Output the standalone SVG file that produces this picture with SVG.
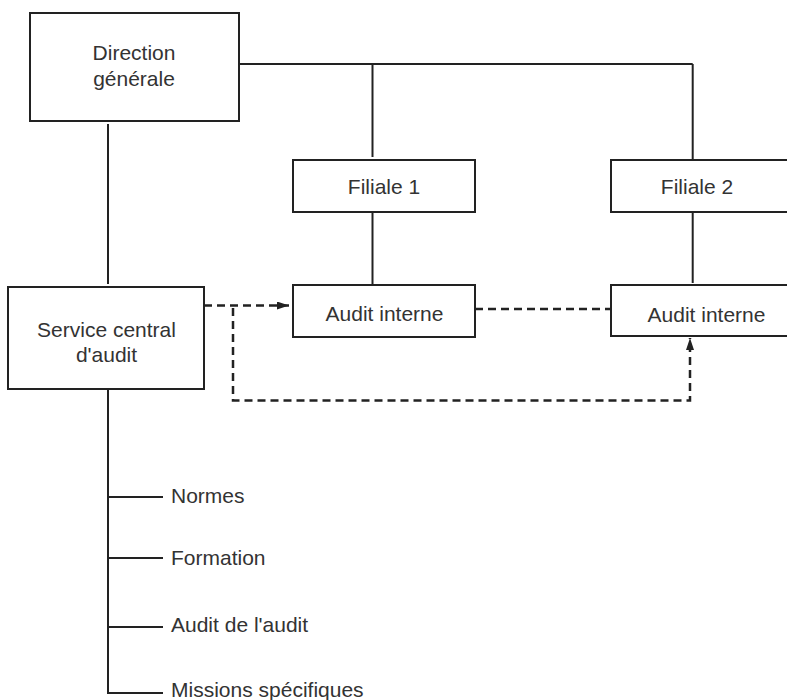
<svg xmlns="http://www.w3.org/2000/svg" width="787" height="700" viewBox="0 0 787 700">
<style>
.box{fill:#fff;stroke:#222;stroke-width:2}
.ln{fill:none;stroke:#222;stroke-width:2}
.dash{fill:none;stroke:#222;stroke-width:2.5;stroke-dasharray:8 5}
text{font-family:"Liberation Sans",Arial,sans-serif;font-size:21px;fill:#333}
.c{text-anchor:middle}
</style>
<defs>
<marker id="arr" markerWidth="12" markerHeight="8" refX="12" refY="4" orient="auto" markerUnits="userSpaceOnUse">
<path d="M0,0 L12,4 L0,8 Z" fill="#222"/>
</marker>
</defs>
<g id="connectors">
<path class="ln" d="M239,64 H692.7 M372.5,64 V157 M692.7,64 V159"/>
<path class="ln" d="M108,124 V284"/>
<path class="ln" d="M372.5,212 V284 M692.7,212 V283"/>
<path class="ln" d="M108,389 V693 H163 M108,497 H163 M108,558 H163 M108,627 H163"/>
<path class="dash" d="M204,305.5 H289" marker-end="url(#arr)"/>
<path class="dash" d="M233,308 V400.5 H690 V338" marker-end="url(#arr)"/>
<path class="dash" d="M475,309 H611"/>
</g>
<g id="direction">
<rect class="box" x="30" y="13" width="209" height="108"/>
<text class="c" x="134" y="60">Direction</text>
<text class="c" x="134" y="86">générale</text>
</g>
<g id="filiale1">
<rect class="box" x="293" y="160" width="182" height="52"/>
<text class="c" x="384" y="194">Filiale 1</text>
</g>
<g id="filiale2">
<rect class="box" x="611" y="160" width="182" height="52"/>
<text class="c" x="697" y="194">Filiale 2</text>
</g>
<g id="audit1">
<rect class="box" x="293" y="285" width="182" height="52"/>
<text class="c" x="384.5" y="321">Audit interne</text>
</g>
<g id="audit2">
<rect class="box" x="611" y="285" width="182" height="51"/>
<text class="c" x="706.5" y="321.5">Audit interne</text>
</g>
<g id="service">
<rect class="box" x="8" y="287" width="196" height="102"/>
<text class="c" x="106.5" y="336.5">Service central</text>
<text class="c" x="106.5" y="361.5">d'audit</text>
</g>
<g id="items">
<text x="171" y="503">Normes</text>
<text x="171" y="565">Formation</text>
<text x="171" y="632">Audit de l'audit</text>
<text x="171" y="697">Missions spécifiques</text>
</g>
</svg>
